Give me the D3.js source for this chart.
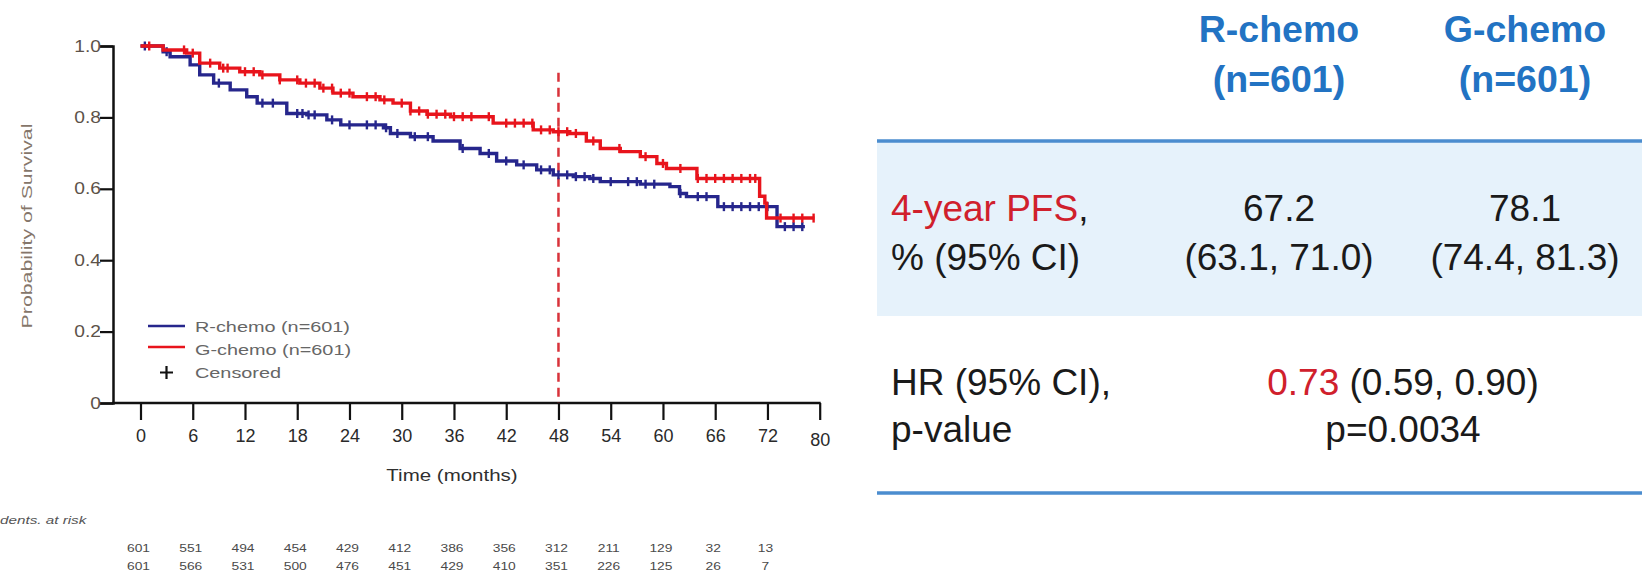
<!DOCTYPE html>
<html>
<head>
<meta charset="utf-8">
<script src="https://cdn.jsdelivr.net/npm/d3@7"></script>
<style>
  html, body { margin: 0; padding: 0; background: #fff; }
  svg { display: block; font-family: "Liberation Sans", Arial, sans-serif; }
</style>
</head>
<body>
<svg id="chart" width="1642" height="575"></svg>
<script>
// ---------------- DATA ----------------
// Kaplan-Meier steps [months, survival probability]
const rChemoCurve = [
  [0, 1.0], [2.6, 0.984], [3.4, 0.970], [5.7, 0.947], [6.8, 0.919], [8.4, 0.896],
  [10.3, 0.877], [12.2, 0.858], [13.4, 0.840], [16.8, 0.811], [19.1, 0.807],
  [21.4, 0.793], [23, 0.779], [27.9, 0.771], [28.7, 0.755], [31, 0.746],
  [33.6, 0.734], [36.7, 0.713], [39, 0.699], [40.9, 0.678], [43.2, 0.667],
  [45.5, 0.653], [47.4, 0.639], [49.7, 0.634], [51.6, 0.629], [52.8, 0.620],
  [57.4, 0.613], [60.8, 0.606], [61.9, 0.587], [62.7, 0.578], [66.3, 0.550],
  [73.1, 0.494], [76.3, 0.494]
];
const gChemoCurve = [
  [0, 1.0], [2.6, 0.989], [5.3, 0.980], [6.8, 0.952], [9.1, 0.938], [11.4, 0.928],
  [13.7, 0.919], [16, 0.905], [18.3, 0.896], [20.6, 0.882], [22.1, 0.868],
  [24.4, 0.858], [27.5, 0.849], [29, 0.840], [31, 0.818], [32.9, 0.809],
  [35.6, 0.802], [40.5, 0.784], [45.1, 0.765], [47.4, 0.760], [49.3, 0.755],
  [51.2, 0.734], [52.8, 0.713], [55.1, 0.704], [57.4, 0.690], [59.3, 0.671],
  [60.4, 0.657], [63.9, 0.629], [71.1, 0.579], [71.7, 0.560], [71.9, 0.518],
  [77.4, 0.518]
];
// censoring times (months)
const rChemoCensor = [0.5, 3, 9, 14, 15.2, 18, 18.6, 19.3, 20, 22, 24, 26, 27, 28.2, 29.5, 31.5, 33,
  37, 40, 42, 44, 46, 47, 48, 49, 50, 51, 52, 54, 56, 57, 58, 59, 62, 64, 65, 67, 68, 69, 70, 71, 72,
  74, 75, 76];
const gChemoCensor = [1, 5, 6, 8, 9.5, 10, 12, 13, 14, 16, 18, 19, 20, 21, 22, 23, 24, 26, 27, 28,
  30, 31, 32, 33, 34, 35, 36, 37, 38, 40, 42, 43, 44, 45, 46, 47, 48, 49, 50, 52, 55, 58, 60, 62,
  64, 65, 66, 67, 68, 69, 70, 70.6, 73.5, 75, 76, 77.3];

const xTickValues = [0, 6, 12, 18, 24, 30, 36, 42, 48, 54, 60, 66, 72, 78];
const xTickLabels = ["0", "6", "12", "18", "24", "30", "36", "42", "48", "54", "60", "66", "72", "80"];
const yTickValues = [0, 0.2, 0.4, 0.6, 0.8, 1.0];
const yTickLabels = ["0", "0.2", "0.4", "0.6", "0.8", "1.0"];
const landmarkMonth = 48;

const riskRowR = ["601", "551", "494", "454", "429", "412", "386", "356", "312", "211", "129", "32", "13"];
const riskRowG = ["601", "566", "531", "500", "476", "451", "429", "410", "351", "226", "125", "26", "7"];
const riskTimes = [0, 6, 12, 18, 24, 30, 36, 42, 48, 54, 60, 66, 72];

const legendLabels = ["R-chemo (n=601)", "G-chemo (n=601)", "Censored"];

const tableHeaders = [["R-chemo", "(n=601)"], ["G-chemo", "(n=601)"]];
const pfsLabelRed = "4-year PFS";
const pfsLabelRest = ["%", " (95% CI)"];
const pfsR = ["67.2", "(63.1, 71.0)"];
const pfsG = ["78.1", "(74.4, 81.3)"];
const hrLabel = ["HR (95% CI),", "p-value"];
const hrValue = "0.73";
const hrCI = " (0.59, 0.90)";
const pValue = "p=0.0034";

// ---------------- STYLE ----------------
const BLUE = "#26268c", RED = "#e8141c";
const svg = d3.select("#chart");

function stretch(sel, f) {
  sel.each(function () {
    const w = this.getComputedTextLength();
    this.setAttribute("textLength", w * f);
    this.setAttribute("lengthAdjust", "spacingAndGlyphs");
  });
  return sel;
}

// ---------------- SCALES ----------------
const x = d3.scaleLinear().domain([0, 78]).range([140.5, 819.7]);
const y = d3.scaleLinear().domain([0, 1]).range([403, 46]);
const axisLeftX = 113;

// axes
const xAxis = d3.axisBottom(x).tickValues(xTickValues)
  .tickFormat((d, i) => xTickLabels[i]).tickSize(17).tickPadding(9);
const gx = svg.append("g").attr("transform", `translate(0,${y(0)})`).call(xAxis);
gx.select(".domain").remove();
gx.selectAll(".tick line").attr("stroke", "#111").attr("stroke-width", 2.2);
gx.selectAll(".tick text").attr("font-size", 18).attr("fill", "#2a2a2a")
  .attr("font-family", "Liberation Sans, Arial, sans-serif");
gx.selectAll(".tick text").filter((d, i) => i === xTickLabels.length - 1).attr("dy", "0.95em");
svg.append("line").attr("x1", axisLeftX - 1).attr("x2", x(78) + 1)
  .attr("y1", y(0)).attr("y2", y(0)).attr("stroke", "#111").attr("stroke-width", 2.5);

const yAxis = d3.axisLeft(y).tickValues(yTickValues)
  .tickFormat((d, i) => yTickLabels[i]).tickSize(13).tickPadding(-1);
const gy = svg.append("g").attr("transform", `translate(${axisLeftX},0)`).call(yAxis);
gy.select(".domain").attr("stroke", "#111").attr("stroke-width", 2.5);
gy.selectAll(".tick line").attr("stroke", "#111").attr("stroke-width", 2.2);
gy.selectAll(".tick text").attr("font-size", 16).attr("fill", "#5c5249")
  .attr("font-family", "Liberation Sans, Arial, sans-serif");
stretch(gy.selectAll(".tick text"), 1.2);

// axis titles
stretch(svg.append("text").attr("x", 452).attr("y", 481).attr("text-anchor", "middle")
  .attr("font-size", 16).attr("fill", "#2f2f2f").text("Time (months)"), 1.28);
stretch(svg.append("text").attr("transform", "translate(32,226) rotate(-90)")
  .attr("text-anchor", "middle").attr("font-size", 15).attr("fill", "#85766a")
  .text("Probability of Survival"), 1.42);

// landmark dashed line
svg.append("line").attr("x1", x(landmarkMonth)).attr("x2", x(landmarkMonth))
  .attr("y1", y(0.925)).attr("y2", y(0)).attr("stroke", "#d8323a")
  .attr("stroke-width", 2.5).attr("stroke-dasharray", "9,6");

// curves
const line = d3.line().x(d => x(d[0])).y(d => y(d[1])).curve(d3.curveStepAfter);
function stepAt(curve, t) {
  const i = d3.bisector(d => d[0]).right(curve, t) - 1;
  return curve[Math.max(0, i)][1];
}
[[rChemoCurve, rChemoCensor, BLUE], [gChemoCurve, gChemoCensor, RED]].forEach(([c, cens, col]) => {
  svg.append("path").datum(c).attr("d", line).attr("fill", "none")
    .attr("stroke", col).attr("stroke-width", 3.4);
  svg.append("g").selectAll("line").data(cens).join("line")
    .attr("x1", d => x(d)).attr("x2", d => x(d))
    .attr("y1", d => y(stepAt(c, d)) - 4.5).attr("y2", d => y(stepAt(c, d)) + 4.5)
    .attr("stroke", col).attr("stroke-width", 2.4);
});

// legend
const lg = svg.append("g");
[BLUE, RED].forEach((col, i) => {
  lg.append("line").attr("x1", 148).attr("x2", 185).attr("y1", 326 + i * 21).attr("y2", 326 + i * 21)
    .attr("stroke", col).attr("stroke-width", 2.5);
});
lg.append("path").attr("d", "M160,372.5h13M166.5,366v13").attr("stroke", "#111").attr("stroke-width", 2.2);
legendLabels.forEach((t, i) => {
  stretch(lg.append("text").attr("x", 195).attr("y", 326 + i * 23 + 5.5).attr("font-size", 15.5)
    .attr("fill", "#666").text(t), 1.28);
});

// risk table
stretch(svg.append("text").attr("x", 0).attr("y", 524).attr("font-size", 10.5)
  .attr("font-style", "italic").attr("fill", "#555").text("dents. at risk"), 1.45);
[riskRowR, riskRowG].forEach((row, r) => {
  svg.append("g").selectAll("text").data(row).join("text")
    .attr("x", (d, i) => x(riskTimes[i]) - 2).attr("y", 552 + r * 18)
    .attr("text-anchor", "middle").attr("font-size", 11.5).attr("fill", "#4a4a4a")
    .text(d => d)
    .each(function () { stretch(d3.select(this), 1.2); });
});

// ---------------- RIGHT TABLE ----------------
const colX = [1279, 1525];
const labelX = 891;
const HR_X = 1403;
const tbl = svg.append("g");
tbl.append("rect").attr("x", 877).attr("y", 142).attr("width", 1642 - 877).attr("height", 174)
  .attr("fill", "#e6f2fb");
[141, 493].forEach(yy => tbl.append("line").attr("x1", 877).attr("x2", 1642)
  .attr("y1", yy).attr("y2", yy).attr("stroke", "#4b8dcf").attr("stroke-width", 3.5));

tableHeaders.forEach((h, i) => {
  h.forEach((t, j) => {
    tbl.append("text").attr("x", colX[i]).attr("y", 42 + j * 50).attr("text-anchor", "middle")
      .attr("font-size", 37.5).attr("font-weight", "bold").attr("fill", "#2273c3").text(t);
  });
});
const BODY = 37;
const pfsHead = tbl.append("text").attr("x", labelX).attr("y", 221).attr("font-size", BODY)
  .attr("fill", "#1a1a1a");
pfsHead.append("tspan").attr("fill", "#d0202c").text(pfsLabelRed);
pfsHead.append("tspan").text(",");
tbl.append("text").attr("x", labelX).attr("y", 270).attr("font-size", BODY)
  .attr("fill", "#1a1a1a").text(pfsLabelRest.join(""));
[pfsR, pfsG].forEach((vals, i) => {
  vals.forEach((t, j) => {
    tbl.append("text").attr("x", colX[i]).attr("y", 221 + j * 49).attr("text-anchor", "middle")
      .attr("font-size", BODY).attr("fill", "#1a1a1a").text(t);
  });
});
hrLabel.forEach((t, j) => {
  tbl.append("text").attr("x", labelX).attr("y", 395 + j * 47).attr("font-size", BODY)
    .attr("fill", "#1a1a1a").text(t);
});
const hrText = tbl.append("text").attr("x", HR_X).attr("y", 395).attr("text-anchor", "middle")
  .attr("font-size", BODY).attr("fill", "#1a1a1a");
hrText.append("tspan").attr("fill", "#d0202c").text(hrValue);
hrText.append("tspan").text(hrCI);
tbl.append("text").attr("x", HR_X).attr("y", 442).attr("text-anchor", "middle")
  .attr("font-size", BODY).attr("fill", "#1a1a1a").text(pValue);
</script>
</body>
</html>
